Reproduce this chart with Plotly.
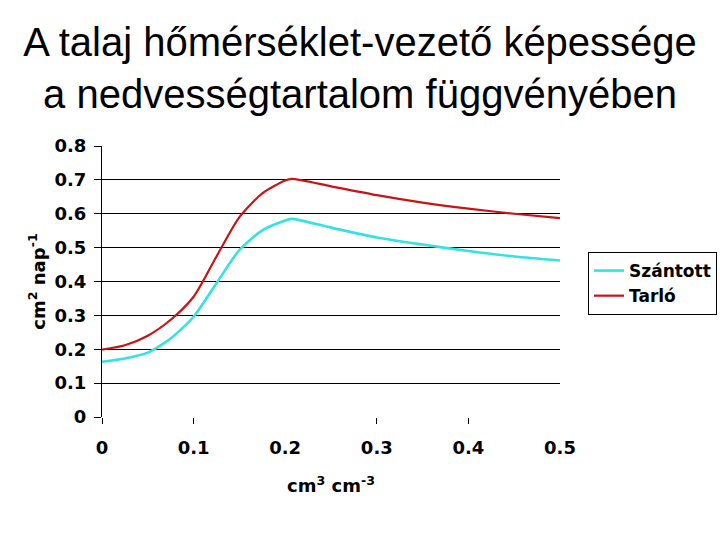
import plotly.graph_objects as go

# nedvességtartalom (cm3 cm-3)
moisture = [0, 0.025, 0.05, 0.075, 0.1, 0.125, 0.15, 0.175, 0.2, 0.207,
            0.25, 0.3, 0.35, 0.4, 0.45, 0.5]
# hőmérséklet-vezető képesség (cm2 nap-1)
szantott = [0.163, 0.173, 0.190, 0.232, 0.296, 0.395, 0.493, 0.551, 0.580, 0.585,
            0.559, 0.530, 0.509, 0.490, 0.474, 0.462]
tarlo = [0.199, 0.212, 0.240, 0.287, 0.355, 0.474, 0.590, 0.660, 0.698, 0.703,
         0.681, 0.655, 0.633, 0.615, 0.600, 0.587]

x_ticks = [0, 0.1, 0.2, 0.3, 0.4, 0.5]
x_tick_labels = ["0", "0.1", "0.2", "0.3", "0.4", "0.5"]
x_tick_marks = [0, 0.1, 0.3, 0.4]
y_ticks = [0, 0.1, 0.2, 0.3, 0.4, 0.5, 0.6, 0.7, 0.8]
y_tick_labels = ["0", "0.1", "0.2", "0.3", "0.4", "0.5", "0.6", "0.7", "0.8"]

TICK_FONT = dict(family="DejaVu Sans", size=18, color="black", weight="bold")
AXIS_TITLE_FONT = dict(family="DejaVu Sans", size=18, color="black", weight="bold")

fig = go.Figure()

fig.add_trace(go.Scatter(
    x=moisture, y=szantott, name="Szántott", mode="lines",
    line=dict(color="#33E3E3", width=2.6, shape="spline", smoothing=0.7),
))
fig.add_trace(go.Scatter(
    x=moisture, y=tarlo, name="Tarló", mode="lines",
    line=dict(color="#C81414", width=2.2, shape="spline", smoothing=0.7),
))
# csak a tengelyjelek (x) a második tengelyhez
fig.add_trace(go.Scatter(x=[0, 0.5], y=[None, None], xaxis="x2",
                         showlegend=False, hoverinfo="skip"))

fig.update_layout(
    width=720,
    height=540,
    paper_bgcolor="white",
    plot_bgcolor="white",
    margin=dict(l=102, r=160, t=146, b=123),
    title=dict(
        text="A talaj hőmérséklet-vezető képessége<br>a nedvességtartalom függvényében",
        font=dict(family="Liberation Sans", size=40, color="black"),
        x=0.5, xanchor="center", y=0.897, yanchor="middle",
    ),
    xaxis=dict(
        range=[0, 0.5],
        tickvals=x_ticks,
        ticktext=x_tick_labels,
        ticks="",
        ticklabelstandoff=18,
        showgrid=False,
        zeroline=False,
        showline=False,
        automargin=False,
        tickfont=TICK_FONT,
        title=dict(text="cm<sup>3</sup> cm<sup>-3</sup>",
                   font=AXIS_TITLE_FONT, standoff=22),
    ),
    xaxis2=dict(
        range=[0, 0.5],
        overlaying="x",
        side="bottom",
        tickvals=x_tick_marks,
        ticks="outside",
        ticklen=6,
        tickcolor="black",
        showticklabels=False,
        showgrid=False,
        zeroline=False,
        showline=False,
        automargin=False,
    ),
    yaxis=dict(
        range=[0, 0.8],
        tickvals=y_ticks,
        ticktext=y_tick_labels,
        ticks="outside",
        ticklen=7,
        tickcolor="black",
        ticklabelstandoff=4,
        showgrid=True,
        gridcolor="black",
        gridwidth=1,
        zeroline=False,
        showline=True,
        linecolor="black",
        linewidth=1,
        automargin=False,
        tickfont=TICK_FONT,
        title=dict(text="cm<sup>2</sup> nap<sup>-1</sup>",
                   font=AXIS_TITLE_FONT, standoff=4),
    ),
    legend=dict(
        xref="container", yref="container",
        x=0.8167, y=0.5333, xanchor="left", yanchor="top",
        bordercolor="black", borderwidth=1,
        font=dict(family="DejaVu Sans", size=17, color="black", weight="bold"),
        tracegroupgap=0,
        itemwidth=30,
    ),
)

fig.write_html("out.html", config={"displayModeBar": False},
               post_script="document.body.style.margin='0';")
